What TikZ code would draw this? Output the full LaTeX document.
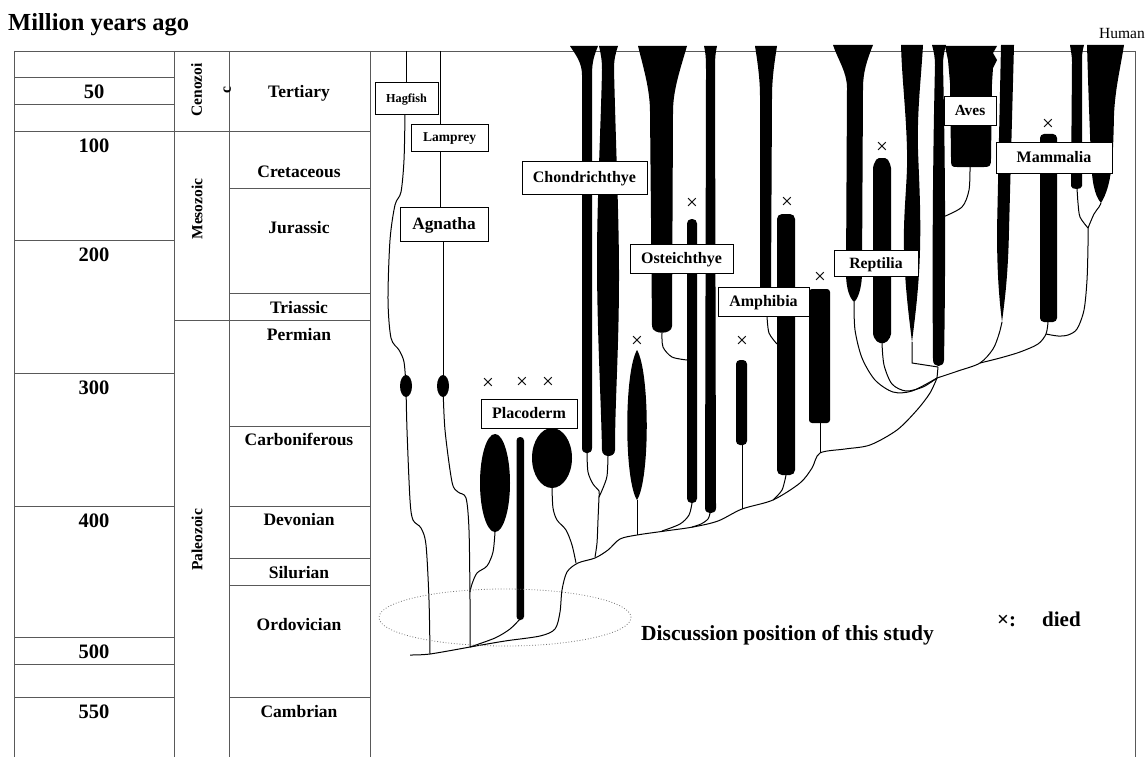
\documentclass[tikz,border=0pt]{standalone}
\usepackage{fontspec}
\setmainfont{Liberation Serif}
\usetikzlibrary{shapes.geometric}
\newcommand{\fsz}[1]{\fontsize{#1}{#1}\selectfont}
\begin{document}
\begin{tikzpicture}[x=1pt,y=-1pt,
  tab/.style={draw=black!65, line width=0.8pt},
  con/.style={draw=black, line width=1pt, line join=round},
  num/.style={font=\bfseries\fsz{20.5}, inner sep=0pt, text height=13.5pt, text depth=0pt},
  per/.style={font=\bfseries\fsz{17.5}, inner sep=0pt, text height=11.5pt, text depth=0pt},
  era/.style={font=\bfseries\fsz{15.5}, inner sep=0pt, rotate=90},
  lbl/.style={draw=black, line width=0.9pt, fill=white, inner sep=0pt, font=\bfseries\fsz{16}, text height=10.6pt, text depth=0pt},
  xm/.style={font=\fsz{21}, inner sep=0pt}
]
\useasboundingbox (0,0) rectangle (1145,757);
\fill[white] (0,0) rectangle (1145,757);

% ---------- title
\node[anchor=base west, font=\bfseries\fsz{24.5}, inner sep=0pt] (title) at (8,31) {Million years ago};
\node[font=\fsz{15.5}, anchor=east, inner sep=0pt] (human) at (1145,34) {Human};

% ---------- table
\draw[tab] (14,51) -- (1135,51);
\foreach \x in {14,174,229,370,1135} \draw[tab] (\x,51) -- (\x,757);
\foreach \y in {77,104,131,240,373,506,637,664,697} \draw[tab] (14,\y) -- (174,\y);
\foreach \y in {131,320} \draw[tab] (174,\y) -- (229,\y);
\foreach \y in {131,188,293,320,426,506,558,585,697} \draw[tab] (229,\y) -- (370,\y);

\node[num] (m50) at (94,92) {50};
\node[num] (m100) at (94,146) {100};
\node[num] (m200) at (94,255) {200};
\node[num] (m300) at (94,388) {300};
\node[num] (m400) at (94,521) {400};
\node[num] (m500) at (94,652) {500};
\node[num] (m550) at (94,712) {550};

\node[era, align=center, font=\bfseries\fontsize{15.5}{29}\selectfont] (ceno) at (211,90) {Cenozoi\\c};
\node[era] (meso) at (197,209) {Mesozoic};
\node[era] (paleo) at (197,540) {Paleozoic};

\node[per] (tert) at (299,92) {Tertiary};
\node[per] (cret) at (299,172) {Cretaceous};
\node[per] (jura) at (299,228) {Jurassic};
\node[per] (tria) at (299,308) {Triassic};
\node[per] (perm) at (299,335) {Permian};
\node[per] (carb) at (299,440) {Carboniferous};
\node[per] (devo) at (299,520) {Devonian};
\node[per] (silu) at (299,573) {Silurian};
\node[per] (ordo) at (299,625) {Ordovician};
\node[per] (camb) at (299,712) {Cambrian};

% ---------- black lineages
% Agnatha ovals
\fill (406,386) ellipse [x radius=6pt, y radius=11pt];
\fill (443,386) ellipse [x radius=6pt, y radius=11pt];
% Placoderm
\fill (495,483) ellipse [x radius=15pt, y radius=49pt];
\fill[rounded corners=3.5pt] (516.5,437) rectangle (524,620);
\fill (552,458) ellipse [x radius=20pt, y radius=30pt];
% Chondrichthye
\fill (570,46) -- (598,46) .. controls (594,56) and (592,62) .. (592,75) -- (592,448) .. controls (592,455) and (582,455) .. (582,448) -- (582,75) .. controls (582,62) and (575,54) .. (570,46) -- cycle;
\fill (599,46) -- (618,46) .. controls (615,55) and (614,60) .. (614,70) .. controls (616,150) and (619,220) .. (619,275) .. controls (619,350) and (615,400) .. (615,450) .. controls (615,458) and (602,458) .. (602,450) .. controls (601,400) and (597,330) .. (597,260) .. controls (597,200) and (601,120) .. (602,70) .. controls (602,60) and (601,55) .. (599,46) -- cycle;
% Osteichthye
\fill (638,46) -- (687,46) .. controls (680,70) and (673,90) .. (673,112) -- (672,326) .. controls (672,335) and (652,335) .. (652,326) -- (650,112) .. controls (650,90) and (644,70) .. (638,46) -- cycle;
\fill[rounded corners=4.5pt] (687,219) rectangle (697,503);
\fill (704,46) -- (717,46) .. controls (715,55) and (715,60) .. (715,75) -- (716,508) .. controls (716,515) and (705,515) .. (705,508) -- (706,75) .. controls (706,60) and (706,55) .. (704,46) -- cycle;
\fill (637,350) .. controls (650,372) and (650,480) .. (637,500) .. controls (624,480) and (624,372) .. (637,350) -- cycle;
% Amphibia
\fill (755,46) -- (777,46) .. controls (774,65) and (772,80) .. (772,97) -- (771,288) .. controls (771,296) and (768,300) .. (766,302) .. controls (763,298) and (761,294) .. (760,288) -- (760,97) .. controls (760,80) and (758,65) .. (755,46) -- cycle;
\fill[rounded corners=5pt] (777,214) rectangle (795,475);
\fill[rounded corners=4pt] (736,360) rectangle (747,445);
\fill[rounded corners=3pt] (809,289) rectangle (830,423);
% Reptilia
\fill (833,45) -- (873,45) .. controls (867,60) and (863,72) .. (863,88) -- (862,272) .. controls (862,290) and (857,300) .. (854,302) .. controls (850,298) and (846,290) .. (846,272) -- (847,88) .. controls (847,72) and (838,60) .. (833,45) -- cycle;
\fill[rounded corners=2pt] (873,166) -- (877,158) -- (887,158) -- (891,166) -- (891,336) -- (886,343) -- (878,343) -- (873,336) -- cycle;
\fill (901,45) -- (923,45) .. controls (921,80) and (917,110) .. (918,150) .. controls (919,180) and (921,210) .. (920,250) .. controls (919,290) and (914,325) .. (912,342) .. controls (910,325) and (905,290) .. (904,250) .. controls (903,210) and (908,180) .. (907,150) .. controls (906,110) and (902,80) .. (901,45) -- cycle;
\fill (932,45) -- (946,45) .. controls (944,52) and (943,58) .. (943,65) .. controls (945,150) and (946,250) .. (944,360) .. controls (944,368) and (933,368) .. (933,360) .. controls (932,250) and (933,150) .. (935,65) .. controls (935,58) and (934,52) .. (932,45) -- cycle;
% Aves
\fill (945,46) -- (997,46) -- (993,53) -- (997,60) -- (993,68) -- (992,83) -- (991,158) .. controls (991,166) and (990,167) .. (984,167) -- (957,167) .. controls (951,167) and (951,166) .. (951,158) -- (950,83) -- (948,60) -- cycle;
\fill (1001,45) -- (1014,45) -- (1009,230) .. controls (1008,280) and (1004,305) .. (1002,322) .. controls (1000,305) and (997,280) .. (997,230) -- cycle;
% Mammalia
\fill[rounded corners=4pt] (1040,134) rectangle (1057,322);
\fill (1070,45) -- (1084,45) .. controls (1082,52) and (1082,56) .. (1082,62) -- (1082,186) .. controls (1082,190) and (1071,190) .. (1071,186) -- (1072,62) .. controls (1072,56) and (1071,52) .. (1070,45) -- cycle;
\fill (1087,45) -- (1124,45) .. controls (1120,70) and (1115,90) .. (1114,115) .. controls (1113,160) and (1112,185) .. (1101,203) .. controls (1094,195) and (1092,180) .. (1091,160) .. controls (1089,110) and (1088,80) .. (1087,45) -- cycle;

% ---------- named points
\coordinate (hagT) at (406,51);
\coordinate (lamT) at (440,51);
\coordinate (ovH) at (406,386);
\coordinate (ovL) at (443,386);
\coordinate (base0) at (410,655);
\coordinate (hb) at (430,654);
\coordinate (lb) at (470,647);
\coordinate (plRod) at (520,619);
\coordinate (plL) at (495,532);
\coordinate (plR) at (552,487);
\coordinate (chA) at (587,453);
\coordinate (chB) at (608,456);
\coordinate (chJ) at (599,497);
\coordinate (osE) at (637,500);
\coordinate (tr1) at (637,535);
\coordinate (osC) at (662,333);
\coordinate (osD) at (692,503);
\coordinate (osDl) at (687,360);
\coordinate (osEb) at (710,513);
\coordinate (amF) at (767,316);
\coordinate (amGl) at (777,344);
\coordinate (amH) at (742,445);
\coordinate (tr2) at (742,509);
\coordinate (amG) at (786,475);
\coordinate (tr3) at (773,500);
\coordinate (amI) at (820,423);
\coordinate (tr4) at (820,453);
\coordinate (hub) at (937,378);
\coordinate (rJ) at (854,302);
\coordinate (rK) at (882,343);
\coordinate (rL) at (912,342);
\coordinate (Mbot) at (938,367);
\coordinate (avN) at (970,167);
\coordinate (avM) at (943,217);
\coordinate (oT) at (1002,322);
\coordinate (br1) at (980,363);
\coordinate (pB) at (1048,322);
\coordinate (pJ) at (1046,334);
\coordinate (fork) at (1088,228);
\coordinate (qB) at (1077,188);
\coordinate (rT) at (1101,203);

% ---------- connectors
\draw[con] (hagT) -- (406,82);
\draw[con] (lamT) -- (440,124);
\draw[con] (440,151) -- (440,207);
\draw[con] plot[smooth] coordinates {(405,114) (404,160) (401,192) (395,205) (390,240) (388,300) (391,338) (399,350) (404,362) (ovH)};
\draw[con] plot[smooth] coordinates {(ovH) (407,430) (410,500) (413,520) (421,528) (426,545) (429,600) (hb)};
\draw[con] (443,241) -- (ovL);
\draw[con] plot[smooth] coordinates {(ovL) (445,430) (452,482) (458,492) (466,498) (469,530) (470,600) (lb)};
\draw[con] plot[smooth] coordinates {(base0) (hb) (lb)};
\draw[con] plot[smooth] coordinates {(lb) (495,638) (510,629) (plRod)};
\draw[con] plot[smooth] coordinates {(lb) (505,641) (540,636) (555,629) (560,612) (562,590) (567,572) (578,563) (595,558) (608,550) (620,539) (tr1) (665,531) (693,527) (718,521) (tr2) (tr3) (800,483) (812,468) (tr4) (845,449) (870,445) (897,430) (917,410) (930,393) (hub)};
\draw[con] plot[smooth] coordinates {(plL) (493,552) (487,566) (477,573) (472,584) (470,592)};
\draw[con] plot[smooth] coordinates {(plR) (553,508) (557,520) (566,530) (572,545) (576,563)};
\draw[con] plot[smooth] coordinates {(chA) (588,472) (593,484) (599,491) (chJ)};
\draw[con] plot[smooth] coordinates {(chB) (607,476) (603,488) (chJ)};
\draw[con] plot[smooth] coordinates {(chJ) (598,520) (597,543) (595,557)};
\draw[con] (osE) -- (tr1);
\draw[con] plot[smooth] coordinates {(osD) (689,515) (680,524) (662,531)};
\draw[con] plot[smooth] coordinates {(osEb) (708,519) (701,524) (692,527)};
\draw[con] plot[smooth] coordinates {(osC) (663,347) (672,357) (osDl)};
\draw[con] (amH) -- (tr2);
\draw[con] plot[smooth] coordinates {(tr3) (782,490) (amG)};
\draw[con] plot[smooth] coordinates {(amF) (769,333) (amGl)};
\draw[con] (amI) -- (tr4);
\draw[con] plot[smooth] coordinates {(rJ) (855,330) (862,358) (875,380) (893,392) (912,391) (hub)};
\draw[con] plot[smooth] coordinates {(rK) (884,365) (892,384) (906,391) (923,387) (hub)};
\draw[con] (rL) -- (912,363) -- (Mbot);
\draw[con] (Mbot) -- (hub);
\draw[con] plot[smooth] coordinates {(hub) (958,371) (br1) (993,349) (999,334) (oT)};
\draw[con] plot[smooth] coordinates {(br1) (1000,358) (1020,352) (1038,344) (pJ) (pB)};
\draw[con] plot[smooth] coordinates {(pJ) (1058,336) (1068,335) (1077,329) (1084,310) (1087,280) (1088,245) (fork)};
\draw[con] plot[smooth] coordinates {(fork) (1080,217) (1078,203) (qB)};
\draw[con] plot[smooth] coordinates {(fork) (1094,214) (1099,207) (rT)};
\draw[con] plot[smooth] coordinates {(avN) (969,190) (962,207) (avM)};

% ---------- label boxes
\node[lbl, font=\bfseries\fsz{12.2}, text height=8.1pt, minimum width=63pt, minimum height=32pt] (hag) at (406.5,98) {Hagfish};
\node[lbl, font=\bfseries\fsz{13.5}, text height=9pt, minimum width=77pt, minimum height=27pt] (lam) at (449.5,137.5) {Lamprey};
\node[lbl, font=\bfseries\fsz{17.3}, text height=11.5pt, minimum width=88pt, minimum height=34pt] (agn) at (444,224) {Agnatha};
\node[lbl, minimum width=125pt, minimum height=33pt] (chon) at (584.5,177.5) {Chondrichthye};
\node[lbl, minimum width=103pt, minimum height=29pt] (oste) at (681.5,258.5) {Osteichthye};
\node[lbl, minimum width=91pt, minimum height=29pt] (amph) at (763.5,301.5) {Amphibia};
\node[lbl, font=\bfseries\fsz{15.7}, minimum width=84pt, minimum height=26pt] (rept) at (876,263) {Reptilia};
\node[lbl, font=\bfseries\fsz{15.4}, minimum width=52pt, minimum height=29pt] (aves) at (970,110.5) {Aves};
\node[lbl, minimum width=116pt, minimum height=31pt] (mamm) at (1054,157.5) {Mammalia};
\node[lbl, minimum width=96pt, minimum height=29pt] (plac) at (529,413.5) {Placoderm};

% ---------- extinction marks
\node[xm] (x1) at (488,384) {×};
\node[xm] (x2) at (522,383) {×};
\node[xm] (x3) at (548,383) {×};
\node[xm] (x4) at (637,342) {×};
\node[xm] (x5) at (692,204) {×};
\node[xm] (x6) at (742,342) {×};
\node[xm] (x7) at (787,203) {×};
\node[xm] (x8) at (820,278) {×};
\node[xm] (x9) at (882,148) {×};
\node[xm] (x10) at (1048,125) {×};

% ---------- study region and legend
\node[ellipse, draw=black!55, dotted, line width=0.8pt, minimum width=252pt, minimum height=57pt, inner sep=0pt] (disc) at (505,617.5) {};
\node[anchor=west, font=\bfseries\fsz{21.5}, inner sep=0pt, text height=14pt, text depth=0pt] (disctext) at (641,633) {Discussion position of this study};
\node[anchor=west, font=\bfseries\fsz{21}, inner sep=0pt, text height=14pt, text depth=0pt] (legx) at (997,619) {×:};
\node[anchor=west, font=\bfseries\fsz{21}, inner sep=0pt, text height=14pt, text depth=0pt] (legd) at (1042,619) {died};
\end{tikzpicture}
\end{document}
